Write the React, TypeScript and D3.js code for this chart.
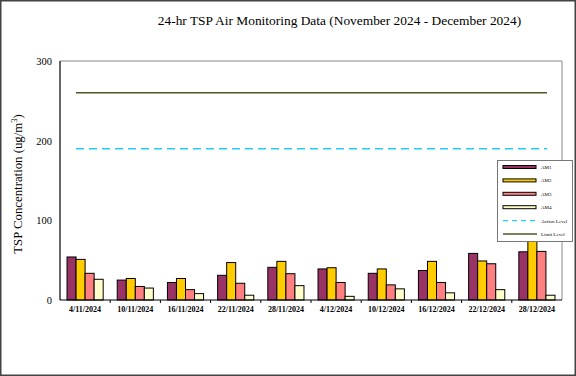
import React from "react";
import * as d3 from "d3";

const categories = ["4/11/2024","10/11/2024","16/11/2024","22/11/2024","28/11/2024","4/12/2024","10/12/2024","16/12/2024","22/12/2024","28/12/2024"];
const seriesNames = ["AM1","AM2","AM3","AM4"];
const am1 = [54, 25, 22, 31, 41, 39, 33.5, 37, 58.5, 60.5];
const am2 = [51, 27, 27, 47, 48.5, 40.5, 39, 48.5, 49, 80];
const am3 = [33.5, 17, 13, 21, 33, 22, 19, 22, 45.5, 61];
const am4 = [26, 15, 8, 6, 18, 4.6, 14, 9, 13, 6];
const actionLevel = 190;
const limitLevel = 260;
const yTicks = [0, 100, 200, 300];
const colors = ["#993366", "#ffcc00", "#ff8080", "#ffffcc"];

export default function App() {
  const W = 576, H = 376;
  const left = 60, right = 562, top = 61, bottom = 300;
  const series = [am1, am2, am3, am4];
  const y = d3.scaleLinear().domain([0, 300]).range([bottom, top]);
  const x0 = d3.scaleBand<string>().domain(categories).range([left, right]).paddingInner(0.28).paddingOuter(0.14);
  const x1 = d3.scaleBand<string>().domain(seriesNames).range([0, x0.bandwidth()]);
  const bounds = d3.range(1, categories.length).map(i => left + (i * (right - left)) / categories.length);
  const legendRows = [...seriesNames, "Action Level", "Limit Level"];
  const ly = d3.scalePoint<string>().domain(legendRows).range([167, 234]);

  return (
    <svg width={W} height={H} style={{ position: "absolute", left: 0, top: 0, background: "#fff" }} fontFamily="'Liberation Serif', 'Times New Roman', serif">
      <rect x={0.75} y={0.75} width={W - 1.5} height={H - 1.5} fill="#fff" stroke="#444" strokeWidth={1.5} />
      <text x={339.5} y={25} textAnchor="middle" fontSize={13.4}>24-hr TSP Air Monitoring Data (November 2024 - December 2024)</text>
      {/* plot frame */}
      <path d={`M${left},${top}H${right}V${bottom}`} fill="none" stroke="#888" strokeWidth={1} />
      {/* bars */}
      {categories.map((c, i) => (
        <g key={c}>
          {series.map((s, j) => (
            <rect key={j} x={(x0(c) as number) + (x1(seriesNames[j]) as number)} y={y(s[i])}
              width={x1.bandwidth()} height={bottom - y(s[i])} fill={colors[j]} stroke="#000" strokeWidth={1} />
          ))}
        </g>
      ))}
      {/* levels */}
      <line x1={76} x2={547} y1={y(limitLevel)} y2={y(limitLevel)} stroke="#555522" strokeWidth={1.5} />
      <line x1={76} x2={547} y1={y(actionLevel)} y2={y(actionLevel)} stroke="#22ccff" strokeWidth={1.5} strokeDasharray="8,5" />
      {/* axes */}
      <line x1={left} x2={left} y1={top} y2={bottom} stroke="#000" strokeWidth={1.2} />
      <line x1={left} x2={right} y1={bottom} y2={bottom} stroke="#000" strokeWidth={1.2} />
      {bounds.map((b, i) => (
        <line key={i} x1={b} x2={b} y1={bottom} y2={bottom + 3} stroke="#000" strokeWidth={1} />
      ))}
      {yTicks.map(t => (
        <text key={t} x={52} y={y(t) + 4} textAnchor="end" fontSize={10.5}>{t}</text>
      ))}
      {categories.map(c => (
        <text key={c} x={(x0(c) as number) + x0.bandwidth() / 2} y={312} textAnchor="middle" fontSize={8} fontWeight="bold">{c}</text>
      ))}
      <text transform="translate(21.5,184) rotate(-90)" textAnchor="middle" fontSize={12.8}>
        TSP Concentration (ug/m<tspan dy={-5} fontSize={8.5}>3</tspan><tspan dy={5}>)</tspan>
      </text>
      {/* legend */}
      <rect x={497.5} y={160.5} width={75} height={81} fill="#fff" stroke="#777" strokeWidth={1} />
      {seriesNames.map((n, j) => (
        <g key={n}>
          <rect x={503} y={(ly(n) as number) - 1.5} width={33} height={3} fill={colors[j]} stroke="#000" strokeWidth={1} />
          <text x={541} y={(ly(n) as number) + 2} fontSize={5}>{n}</text>
        </g>
      ))}
      <line x1={503} x2={537} y1={ly("Action Level")} y2={ly("Action Level")} stroke="#22ccff" strokeWidth={1.2} strokeDasharray="5,4" />
      <text x={541} y={(ly("Action Level") as number) + 2} fontSize={5}>Action Level</text>
      <line x1={503} x2={537} y1={ly("Limit Level")} y2={ly("Limit Level")} stroke="#555522" strokeWidth={1.5} />
      <text x={541} y={(ly("Limit Level") as number) + 2} fontSize={5}>Limit Level</text>
    </svg>
  );
}
